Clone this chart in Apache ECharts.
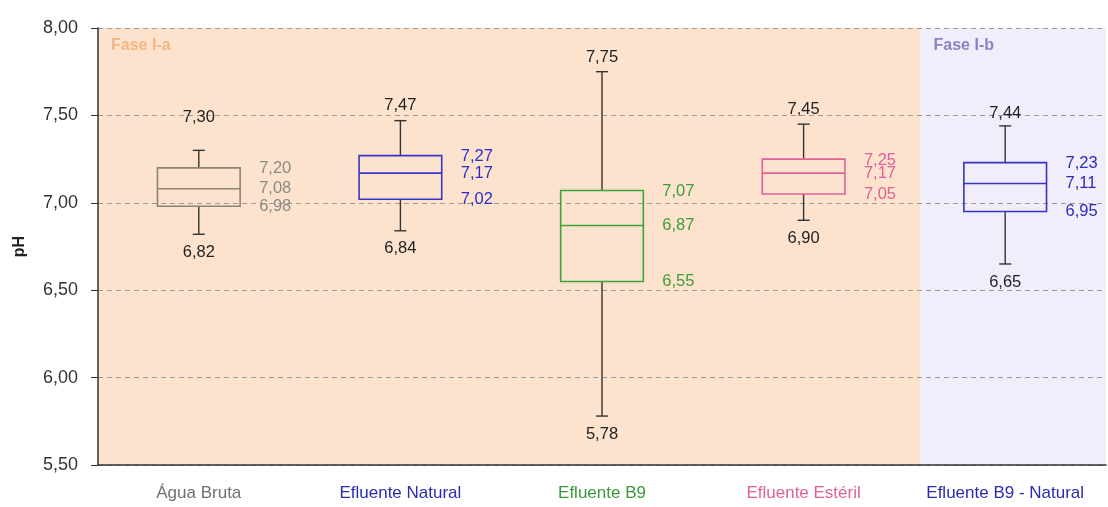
<!DOCTYPE html>
<html>
<head>
<meta charset="utf-8">
<script src="https://cdn.jsdelivr.net/npm/echarts@6/dist/echarts.min.js"></script>
<style>
  html, body { margin: 0; padding: 0; background: #fff; }
  #chart { width: 1108px; height: 507px; }
</style>
</head>
<body>
<div id="chart"></div>
<script>
// pH por tratamento: resumo de cinco números (mín, Q1, mediana, Q3, máx)
const categorias = ['Água Bruta', 'Efluente Natural', 'Efluente B9', 'Efluente Estéril', 'Efluente B9 - Natural'];
const minimos   = [6.82, 6.84, 5.78, 6.90, 6.65];
const quartil1  = [6.98, 7.02, 6.55, 7.05, 6.95];
const medianas  = [7.08, 7.17, 6.87, 7.17, 7.11];
const quartil3  = [7.20, 7.27, 7.07, 7.25, 7.23];
const maximos   = [7.30, 7.47, 7.75, 7.45, 7.44];

// Eixo Y
const yMin = 5.5, yMax = 8.0, yPasso = 0.5;

// Fases do ensaio (em unidades de categoria ao longo do eixo X)
const faseNomes = ['Fase I-a', 'Fase I-b'];
const faseInicio = [0, 4.08];
const faseFim = [4.08, 5];

// Estilo
const corCaixa   = ['#8c8474', '#3535c8', '#3aa53a', '#e2609c', '#3535c0'];
const corRotulo  = ['#8a8a84', '#2c2cc8', '#3a9e3a', '#e0609a', '#2c2cb8'];
const corEixoX   = ['#707070', '#2c2cb0', '#3a9a3a', '#e0609a', '#2c2cb0'];
const corFase    = ['#fde3cd', '#f1edfb'];
const corFaseTxt = ['#f2b585', '#8f82c4'];
const elevMax    = [33, 15, 14, 15, 12];   // afastamento do rótulo do máximo
const familia = '"Liberation Sans", Arial, sans-serif';

const fmt = v => v.toFixed(2).replace('.', ',');
const fonte = '16.5px ' + familia;

const chart = echarts.init(document.getElementById('chart'), null, { renderer: 'canvas' });

const dadosCaixa = categorias.map((c, i) => [i, minimos[i], quartil1[i], medianas[i], quartil3[i], maximos[i]]);
const dadosFase = faseNomes.map((n, i) => [faseInicio[i], faseFim[i], i]);

chart.setOption({
  animation: false,
  grid: { left: 98, right: 2, top: 28, bottom: 42 },
  xAxis: [
    {
      type: 'category',
      data: categorias,
      axisLine: { lineStyle: { color: '#333', width: 1.5 } },
      axisTick: { show: false },
      axisLabel: {
        interval: 0,
        hideOverlap: false,
        margin: 20,
        fontSize: 17,
        fontFamily: familia,
        color: (v, i) => corEixoX[categorias.indexOf(v)]
      },
      splitLine: { show: false }
    },
    { type: 'value', min: 0, max: 5, show: false }
  ],
  yAxis: {
    type: 'value',
    min: yMin, max: yMax, interval: yPasso,
    name: 'pH',
    nameLocation: 'middle',
    nameGap: 70,
    nameTextStyle: { fontWeight: 'bold', fontSize: 16, color: '#222', fontFamily: familia },
    axisLine: { show: true, lineStyle: { color: '#333', width: 1.5 } },
    axisTick: { show: true, length: 7, lineStyle: { color: '#333' } },
    axisLabel: {
      margin: 20,
      fontSize: 18,
      color: '#333',
      fontFamily: familia,
      formatter: v => fmt(v)
    },
    splitLine: { show: true, lineStyle: { color: '#9a9a9a', type: [5, 4], width: 1 } }
  },
  series: [
    {
      // faixas de fundo das fases
      type: 'custom',
      xAxisIndex: 1,
      z: -1,
      silent: true,
      data: dadosFase,
      renderItem: (params, api) => {
        const i = api.value(2);
        const p0 = api.coord([api.value(0), yMax]);
        const p1 = api.coord([api.value(1), yMin]);
        return {
          type: 'group',
          children: [
            { type: 'rect', shape: { x: p0[0], y: p0[1], width: p1[0] - p0[0], height: p1[1] - p0[1] },
              style: { fill: corFase[i] } },
            { type: 'text', style: { text: faseNomes[i], x: p0[0] + 13, y: p0[1] + 18,
              fill: corFaseTxt[i], font: 'bold 16px ' + familia,
              align: 'left', verticalAlign: 'middle' } }
          ]
        };
      }
    },
    {
      // caixas, bigodes e rótulos
      type: 'custom',
      xAxisIndex: 0,
      z: 3,
      silent: true,
      data: dadosCaixa,
      renderItem: (params, api) => {
        const i = api.value(0);
        const yv = k => api.coord([i, api.value(k)])[1];
        const cx = api.coord([i, api.value(1)])[0];
        const banda = api.size([1, 0])[0];
        const w = banda * 0.41;
        const yMinP = yv(1), yQ1 = yv(2), yMed = yv(3), yQ3 = yv(4), yMaxP = yv(5);
        const traco = { stroke: '#333', lineWidth: 1.4 };
        const caixa = { stroke: corCaixa[i], lineWidth: 1.6, fill: null };
        const tx = cx + w / 2 + 19;
        const rot = (text, x, y, fill, align) => ({
          type: 'text',
          style: { text, x, y, fill, font: fonte, align, verticalAlign: 'middle' }
        });
        return {
          type: 'group',
          children: [
            { type: 'line', shape: { x1: cx, y1: yQ3, x2: cx, y2: yMaxP }, style: traco },
            { type: 'line', shape: { x1: cx - 6, y1: yMaxP, x2: cx + 6, y2: yMaxP }, style: traco },
            { type: 'line', shape: { x1: cx, y1: yQ1, x2: cx, y2: yMinP }, style: traco },
            { type: 'line', shape: { x1: cx - 6, y1: yMinP, x2: cx + 6, y2: yMinP }, style: traco },
            { type: 'rect', shape: { x: cx - w / 2, y: yQ3, width: w, height: yQ1 - yQ3 }, style: caixa },
            { type: 'line', shape: { x1: cx - w / 2, y1: yMed, x2: cx + w / 2, y2: yMed }, style: { stroke: corCaixa[i], lineWidth: 1.6 } },
            rot(fmt(api.value(5)), cx, yMaxP - elevMax[i], '#222', 'center'),
            rot(fmt(api.value(1)), cx, yMinP + 18, '#222', 'center'),
            rot(fmt(api.value(4)), tx, yQ3 + 1, corRotulo[i], 'left'),
            rot(fmt(api.value(3)), tx, yMed, corRotulo[i], 'left'),
            rot(fmt(api.value(2)), tx, yQ1, corRotulo[i], 'left')
          ]
        };
      }
    }
  ]
});
</script>
</body>
</html>
